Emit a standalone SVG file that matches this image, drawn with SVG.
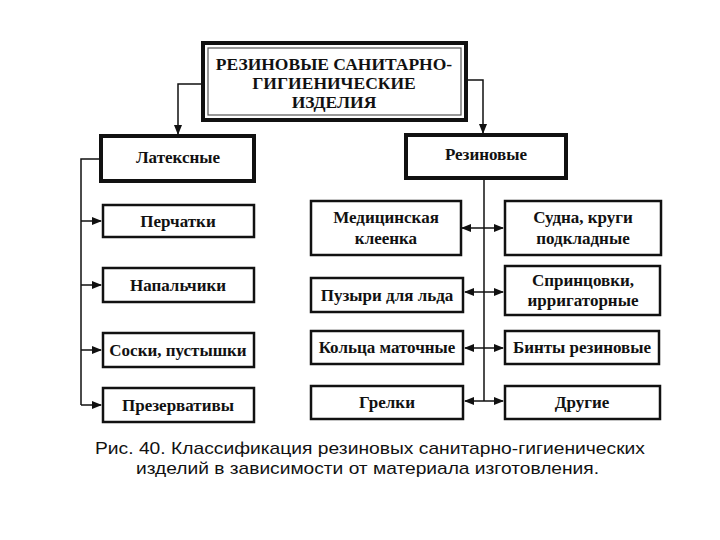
<svg xmlns="http://www.w3.org/2000/svg" width="720" height="540" viewBox="0 0 720 540">
<style>
.box{fill:#fff;stroke:#111;stroke-width:2.5}
.thick{fill:#fff;stroke:#111;stroke-width:4}
.lbl{font-family:"Liberation Serif","DejaVu Serif",serif;font-weight:bold;font-size:17px;fill:#111;text-anchor:middle}
.ttl{font-family:"Liberation Serif","DejaVu Serif",serif;font-weight:bold;font-size:17.5px;fill:#111;text-anchor:middle}
.cap{font-family:"Liberation Sans","DejaVu Sans",sans-serif;font-size:17px;fill:#111}
.ln{fill:none;stroke:#111;stroke-width:1.5}
</style>
<defs>
<marker id="ah" markerWidth="10" markerHeight="8" refX="9" refY="4" orient="auto" markerUnits="userSpaceOnUse">
<path d="M0,0 L10,4 L0,8 Z" fill="#111"/>
</marker>
</defs>
<rect width="720" height="540" fill="#fff"/>
<g id="connectors">
<polyline class="ln" points="203,84 178,84 178,134" marker-end="url(#ah)"/>
<polyline class="ln" points="466,80 483,80 483,133" marker-end="url(#ah)"/>
<polyline class="ln" points="100,159 81,159 81,405"/>
<line class="ln" x1="81" y1="221" x2="101" y2="221" marker-end="url(#ah)"/>
<line class="ln" x1="81" y1="285" x2="101" y2="285" marker-end="url(#ah)"/>
<line class="ln" x1="81" y1="350" x2="101" y2="350" marker-end="url(#ah)"/>
<line class="ln" x1="81" y1="405" x2="101" y2="405" marker-end="url(#ah)"/>
<line class="ln" x1="484" y1="178" x2="484" y2="401"/>
<line class="ln" x1="484" y1="228" x2="462" y2="228" marker-end="url(#ah)"/>
<line class="ln" x1="484" y1="228" x2="503" y2="228" marker-end="url(#ah)"/>
<line class="ln" x1="484" y1="292" x2="465" y2="292" marker-end="url(#ah)"/>
<line class="ln" x1="484" y1="292" x2="503" y2="292" marker-end="url(#ah)"/>
<line class="ln" x1="484" y1="348" x2="465" y2="348" marker-end="url(#ah)"/>
<line class="ln" x1="484" y1="348" x2="503" y2="348" marker-end="url(#ah)"/>
<line class="ln" x1="484" y1="401" x2="465" y2="401" marker-end="url(#ah)"/>
<line class="ln" x1="484" y1="401" x2="503" y2="401" marker-end="url(#ah)"/>
</g>
<g id="root">
<rect x="203" y="43" width="263" height="77" fill="#fff" stroke="#111" stroke-width="4"/>
<rect x="208" y="48" width="253" height="67" fill="none" stroke="#555" stroke-width="1.2"/>
<text class="ttl" x="334" y="70">РЕЗИНОВЫЕ САНИТАРНО-</text>
<text class="ttl" x="334" y="89">ГИГИЕНИЧЕСКИЕ</text>
<text class="ttl" x="334" y="108">ИЗДЕЛИЯ</text>
</g>
<g id="latex">
<rect class="thick" x="101" y="136" width="153" height="45"/>
<text class="lbl" x="178" y="163">Латексные</text>
</g>
<g id="rubber">
<rect class="thick" x="406" y="135" width="160" height="43"/>
<text class="lbl" x="486" y="160">Резиновые</text>
</g>
<g id="gloves">
<rect class="box" x="103" y="205" width="151" height="32"/>
<text class="lbl" x="178" y="227">Перчатки</text>
</g>
<g id="finger">
<rect class="box" x="103" y="268" width="151" height="34"/>
<text class="lbl" x="178" y="291">Напальчики</text>
</g>
<g id="nipples">
<rect class="box" x="103" y="333" width="151" height="34"/>
<text class="lbl" x="178" y="356">Соски, пустышки</text>
</g>
<g id="condoms">
<rect class="box" x="103" y="388" width="151" height="34"/>
<text class="lbl" x="178" y="411">Презервативы</text>
</g>
<g id="oilcloth">
<rect class="box" x="311" y="201" width="150" height="54"/>
<text class="lbl" x="386" y="223">Медицинская</text>
<text class="lbl" x="386" y="244">клеенка</text>
</g>
<g id="ice">
<rect class="box" x="311" y="278" width="152" height="34"/>
<text class="lbl" x="387" y="301">Пузыри для льда</text>
</g>
<g id="rings">
<rect class="box" x="311" y="331" width="152" height="33"/>
<text class="lbl" x="387" y="353">Кольца маточные</text>
</g>
<g id="warmers">
<rect class="box" x="311" y="386" width="152" height="33"/>
<text class="lbl" x="387" y="408">Грелки</text>
</g>
<g id="vessels">
<rect class="box" x="505" y="201" width="156" height="54"/>
<text class="lbl" x="583" y="223">Судна, круги</text>
<text class="lbl" x="583" y="244">подкладные</text>
</g>
<g id="syringes">
<rect class="box" x="505" y="266" width="155" height="49"/>
<text class="lbl" x="583" y="286">Спринцовки,</text>
<text class="lbl" x="583" y="306">ирригаторные</text>
</g>
<g id="bandages">
<rect class="box" x="505" y="331" width="154" height="33"/>
<text class="lbl" x="582" y="353">Бинты резиновые</text>
</g>
<g id="other">
<rect class="box" x="505" y="386" width="155" height="33"/>
<text class="lbl" x="582" y="408">Другие</text>
</g>
<g id="caption">
<text class="cap" x="95" y="454" textLength="550" lengthAdjust="spacingAndGlyphs">Рис. 40. Классификация резиновых санитарно-гигиенических</text>
<text class="cap" x="136" y="474" textLength="463" lengthAdjust="spacingAndGlyphs">изделий в зависимости от материала изготовления.</text>
</g>
</svg>
